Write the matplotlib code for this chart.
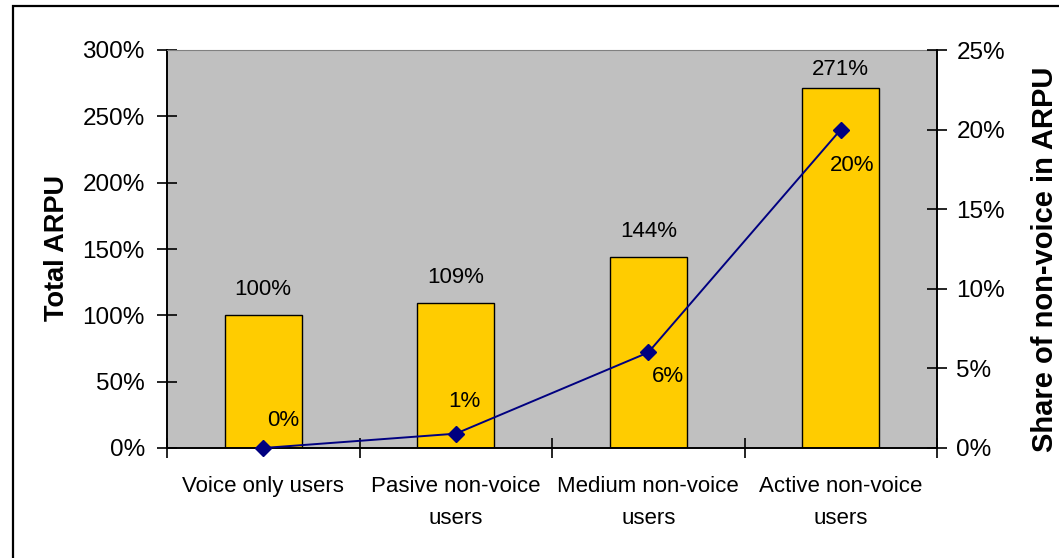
import matplotlib.pyplot as plt
from matplotlib.patches import Rectangle
from matplotlib.ticker import PercentFormatter
import numpy as np

# Chart data
categories = ["Voice only users", "Pasive non-voice\nusers",
              "Medium non-voice\nusers", "Active non-voice\nusers"]
total_arpu = [100, 109, 144, 271]
nonvoice_share = [0, 0.9, 6, 20]
share_labels = ["0%", "1%", "6%", "20%"]
# label offsets in points (dx, dy) for the share labels
share_offsets = [(14, 20), (6, 23), (14, -17), (8, -26)]

plt.rcParams['font.family'] = ['Liberation Sans', 'DejaVu Sans']

W, H = 1059, 558
fig = plt.figure(figsize=(W / 100, H / 100), dpi=100)

# outer chart frame
fig.patches.append(Rectangle((13 / W, -0.05), 1.2, 1 - 6 / H + 0.05,
                             transform=fig.transFigure, fill=False,
                             edgecolor='black', linewidth=1.6))

ax = fig.add_axes([167 / W, 110 / H, 770 / W, 398 / H])
ax.set_facecolor('#C0C0C0')
x = np.arange(len(categories))
bars = ax.bar(x, total_arpu, width=0.4, color='#FFCC00', edgecolor='black',
              linewidth=1.0, zorder=2)
for xi, v in zip(x, total_arpu):
    # keep the top label inside the plot area
    off = 11 if v < 250 else 6
    ax.annotate(f"{v}%", (xi, v), xytext=(0, off), textcoords='offset points',
                ha='center', va='bottom', fontsize=16)

ax.set_xlim(-0.5, 3.5)
ax.set_ylim(0, 300)
ax.set_yticks(np.arange(0, 301, 50))
ax.yaxis.set_major_formatter(PercentFormatter(decimals=0))
ax.set_xticks(x)
ax.set_xticklabels(categories, fontsize=16, linespacing=1.7)
ax.set_xticks(np.arange(-0.5, 3.6, 1), minor=True)
ax.tick_params(axis='x', which='major', length=0, pad=20)
ax.tick_params(axis='x', which='minor', direction='inout', length=14, width=1.2)
ax.tick_params(axis='y', direction='inout', length=14, width=1.2,
               labelsize=17.5, pad=9)
ax.set_ylabel("Total ARPU", fontsize=19.5, fontweight='bold', va='center')
ax.yaxis.set_label_coords(-0.143, 0.5025)

for s in ['left', 'bottom']:
    ax.spines[s].set_linewidth(1.4)
ax.spines['top'].set_color('#808080')
ax.spines['right'].set_visible(False)

ax2 = ax.twinx()
ax2.plot(x, nonvoice_share, color='#000080', linewidth=1.4, marker='D',
         markersize=8, zorder=3, clip_on=False)
for xi, v, lab, (dx, dy) in zip(x, nonvoice_share, share_labels, share_offsets):
    ax2.annotate(lab, (xi, v), xytext=(dx, dy), textcoords='offset points',
                 ha='center', va='center', fontsize=16)
ax2.set_ylim(0, 25)
ax2.set_yticks(np.arange(0, 26, 5))
ax2.yaxis.set_major_formatter(PercentFormatter(decimals=0))
ax2.tick_params(axis='y', direction='inout', length=14, width=1.2,
                labelsize=17.5, pad=7)
ax2.spines['right'].set_linewidth(1.4)
ax2.spines['top'].set_visible(False)
ax2.spines['left'].set_visible(False)
ax2.spines['bottom'].set_visible(False)
ax2.set_ylabel("Share of non-voice in ARPU", fontsize=21, fontweight='bold',
               va='center')
ax2.yaxis.set_label_coords(1.1405, 0.475)

fig.savefig("out.png", dpi=100)
